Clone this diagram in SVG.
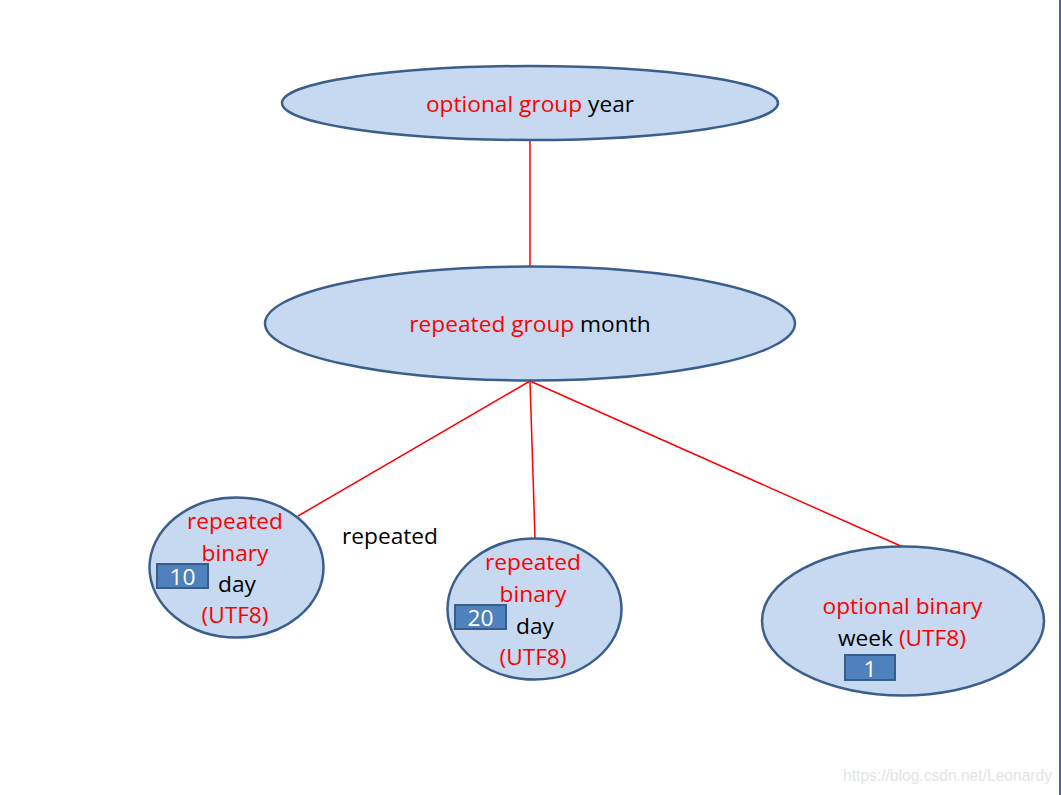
<svg xmlns="http://www.w3.org/2000/svg" width="1061" height="795" viewBox="0 0 1061 795">
<style>
.n{fill:#c6d9f0;stroke:#3b5e8c;stroke-width:2.5}
.b{fill:#4f81bd;stroke:#385d8a;stroke-width:2}
.c{stroke:#ff0000;stroke-width:1.5;fill:none}
text{font-family:"Open Sans","Noto Sans",sans-serif;font-size:22.7px}
.r{fill:#ff0000}
.k{fill:#000000}
.w{fill:#ffffff}
</style>
<rect x="0" y="0" width="1061" height="795" fill="#ffffff"/>
<line x1="1060" y1="0" x2="1060" y2="795" stroke="#4a6a90" stroke-width="2"/>
<g id="connectors">
<line class="c" x1="530" y1="140" x2="530" y2="266"/>
<line class="c" x1="530" y1="381" x2="298" y2="516"/>
<line class="c" x1="530" y1="381" x2="535" y2="538"/>
<line class="c" x1="530" y1="381" x2="903" y2="547"/>
</g>
<g id="year">
<ellipse class="n" cx="530" cy="103" rx="248" ry="37"/>
<text x="530" y="112" text-anchor="middle"><tspan class="r">optional group</tspan><tspan class="k"> year</tspan></text>
</g>
<g id="month">
<ellipse class="n" cx="530" cy="323.5" rx="265" ry="57"/>
<text x="530" y="332" text-anchor="middle"><tspan class="r">repeated group</tspan><tspan class="k"> month</tspan></text>
</g>
<g id="day1">
<ellipse class="n" cx="236.5" cy="567.5" rx="87" ry="70"/>
<text class="r" x="235" y="529" text-anchor="middle">repeated</text>
<text class="r" x="235" y="561" text-anchor="middle">binary</text>
<rect class="b" x="157" y="564" width="51" height="24"/>
<text class="w" x="182.5" y="585" text-anchor="middle">10</text>
<text class="k" x="218" y="592">day</text>
<text class="r" x="235" y="623" text-anchor="middle">(UTF8)</text>
</g>
<g id="label-repeated">
<text class="k" x="390" y="544" text-anchor="middle">repeated</text>
</g>
<g id="day2">
<ellipse class="n" cx="534.5" cy="609" rx="87" ry="70.5"/>
<text class="r" x="533" y="570" text-anchor="middle">repeated</text>
<text class="r" x="533" y="602" text-anchor="middle">binary</text>
<rect class="b" x="455" y="605" width="51" height="24"/>
<text class="w" x="480.5" y="626" text-anchor="middle">20</text>
<text class="k" x="516" y="634">day</text>
<text class="r" x="533" y="665" text-anchor="middle">(UTF8)</text>
</g>
<g id="week">
<ellipse class="n" cx="903" cy="621" rx="141" ry="74.5"/>
<text class="r" x="902.5" y="614" text-anchor="middle">optional binary</text>
<text x="902" y="646" text-anchor="middle"><tspan class="k">week</tspan><tspan class="r"> (UTF8)</tspan></text>
<rect class="b" x="845" y="655" width="50" height="25"/>
<text class="w" x="870" y="677" text-anchor="middle">1</text>
</g>
<text x="1052" y="781" text-anchor="end" style="font-family:'Liberation Sans',Arial,sans-serif;font-size:15.6px;fill:#e4e4e4">https://blog.csdn.net/Leonardy</text>
</svg>
